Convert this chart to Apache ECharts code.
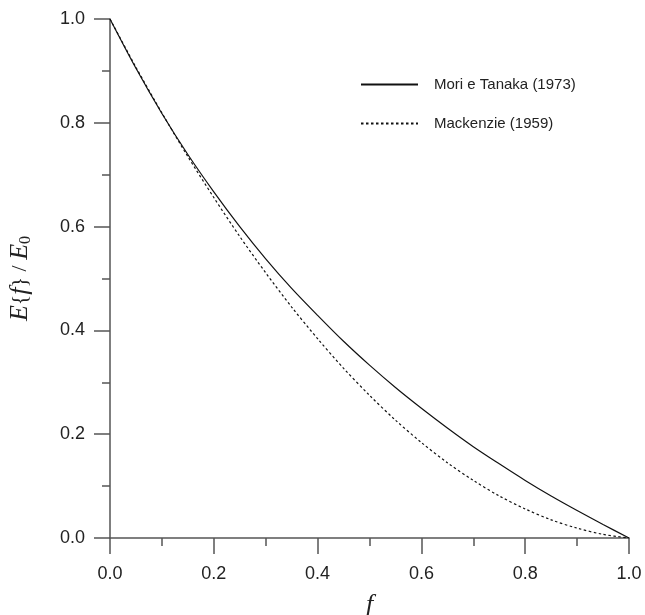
<!DOCTYPE html>
<html>
<head>
<meta charset="utf-8">
<script src="https://cdn.jsdelivr.net/npm/echarts@6/dist/echarts.min.js"></script>
<style>
  html, body { margin: 0; padding: 0; background: #ffffff; }
  #chart { width: 645px; height: 615px; }
</style>
</head>
<body>
<div id="chart"></div>
<script>
// Porosity f and normalised Young's modulus E{f}/E0
const porosity = [0, 0.05, 0.10, 0.15, 0.20, 0.25, 0.30, 0.35, 0.40, 0.45, 0.50,
                  0.55, 0.60, 0.65, 0.70, 0.75, 0.80, 0.85, 0.90, 0.95, 1.00];
const moriTanaka = [1.000, 0.905, 0.818, 0.739, 0.667, 0.600, 0.538, 0.481, 0.429, 0.379, 0.333,
                    0.290, 0.250, 0.212, 0.176, 0.143, 0.111, 0.081, 0.053, 0.026, 0.000];
const mackenzie = [1.000, 0.907, 0.819, 0.735, 0.656, 0.581, 0.511, 0.445, 0.384, 0.327, 0.275,
                   0.227, 0.184, 0.145, 0.111, 0.081, 0.056, 0.035, 0.019, 0.007, 0.000];
const seriesNames = ['Mori e Tanaka (1973)', 'Mackenzie (1959)'];

const axisColor = '#555555';
const textColor = '#222222';
const sans = 'Liberation Sans, Arial, sans-serif';
const serif = 'Liberation Serif, Times New Roman, serif';

const pairs = (ys) => porosity.map((x, i) => [x, ys[i]]);

const chart = echarts.init(document.getElementById('chart'));
chart.setOption({
  backgroundColor: '#ffffff',
  animation: false,
  grid: { left: 110, top: 19, width: 519, height: 519, containLabel: false, outerBoundsMode: 'none' },
  legend: {
    orient: 'vertical',
    left: 355,
    top: 72,
    itemWidth: 57,
    itemHeight: 10,
    itemGap: 24,
    data: seriesNames,
    itemStyle: { opacity: 0 },
    textStyle: { fontFamily: sans, fontSize: 15, color: textColor, padding: [0, 0, 0, 11] }
  },
  xAxis: {
    type: 'value', min: 0, max: 1, interval: 0.2,
    name: 'f', nameLocation: 'middle', nameGap: 54,
    nameTextStyle: { fontFamily: serif, fontStyle: 'italic', fontSize: 26, color: textColor },
    axisLine: { show: true, onZero: false, lineStyle: { color: axisColor, width: 1.5 } },
    axisTick: { show: true, inside: false, length: 16, lineStyle: { color: axisColor, width: 1.5 } },
    minorTick: { show: true, splitNumber: 2, length: 8, lineStyle: { color: axisColor, width: 1.5 } },
    splitLine: { show: false },
    axisLabel: { margin: 27, fontFamily: sans, fontSize: 18, color: textColor,
                 formatter: (v) => v.toFixed(1) }
  },
  yAxis: {
    type: 'value', min: 0, max: 1, interval: 0.2,
    name: '{i|E}{{i|f}} / {i|E}{s|0}',
    nameLocation: 'middle', nameGap: 76, nameRotate: 90,
    nameTextStyle: {
      fontFamily: serif, fontSize: 22, color: textColor,
      rich: {
        i: { fontFamily: serif, fontStyle: 'italic', fontSize: 26, color: textColor },
        s: { fontFamily: serif, fontSize: 16, color: textColor, padding: [12, 0, 0, 0] }
      }
    },
    axisLine: { show: true, onZero: false, lineStyle: { color: axisColor, width: 1.5 } },
    axisTick: { show: true, inside: false, length: 16, lineStyle: { color: axisColor, width: 1.5 } },
    minorTick: { show: true, splitNumber: 2, length: 8, lineStyle: { color: axisColor, width: 1.5 } },
    splitLine: { show: false },
    axisLabel: { margin: 25, fontFamily: sans, fontSize: 18, color: textColor,
                 formatter: (v) => v.toFixed(1) }
  },
  series: [
    {
      name: seriesNames[0], type: 'line', data: pairs(moriTanaka),
      showSymbol: false, symbol: 'none', smooth: 0.3,
      lineStyle: { color: '#111111', width: 1.2, type: 'solid' },
      itemStyle: { color: '#111111' }
    },
    {
      name: seriesNames[1], type: 'line', data: pairs(mackenzie),
      showSymbol: false, symbol: 'none', smooth: 0.3,
      lineStyle: { color: '#111111', width: 1.2, type: [2.5, 2.5] },
      itemStyle: { color: '#111111' }
    }
  ]
});
</script>
</body>
</html>
